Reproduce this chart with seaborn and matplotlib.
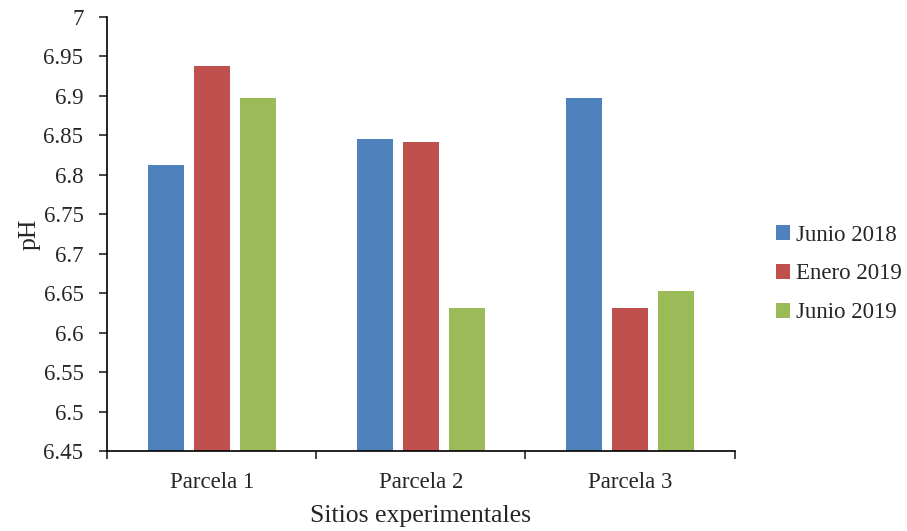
import matplotlib
matplotlib.use('agg')
import matplotlib.pyplot as plt
import numpy as np
import pandas as pd
import seaborn as sns

sitios = ['Parcela 1', 'Parcela 2', 'Parcela 3']
fechas = ['Junio 2018', 'Enero 2019', 'Junio 2019']
junio_2018 = [6.812, 6.845, 6.897]
enero_2019 = [6.938, 6.842, 6.631]
junio_2019 = [6.897, 6.631, 6.653]
colores = ['#4F81BD', '#C0504D', '#9BBB59']

df = pd.DataFrame({
    'sitio': sitios * 3,
    'fecha': [f for f in fechas for _ in sitios],
    'pH': junio_2018 + enero_2019 + junio_2019,
})

sns.set_style('white')
plt.rcParams['font.family'] = ['Liberation Serif', 'DejaVu Serif']

fig = plt.figure(figsize=(9.07, 5.31), dpi=100)
ax = fig.add_axes([0.118, 0.1507, 0.692, 0.8173])

sns.barplot(data=df, x='sitio', y='pH', hue='fecha', order=sitios, hue_order=fechas,
            palette=colores, saturation=1, width=0.66, gap=0.22, linewidth=0,
            errorbar=None, ax=ax)

yt = np.round(np.arange(6.45, 7.001, 0.05), 2)
ax.set_ylim(6.45, 7.0)
ax.set_yticks(yt)
ax.set_yticklabels(['%g' % v for v in yt])
ax.set_xlim(-0.5, 2.5)
ax.set_xticks(range(3))
ax.set_xticks([-0.5, 0.5, 1.5, 2.5], minor=True)
ax.tick_params(axis='x', which='major', length=0, labelsize=16.5, pad=15)
ax.tick_params(axis='x', which='minor', length=6, width=1.2, direction='out', bottom=True)
ax.tick_params(axis='y', length=6, width=1.2, direction='out', left=True, labelsize=16.5, pad=11)

for side in ['top', 'right']:
    ax.spines[side].set_visible(False)
for side in ['left', 'bottom']:
    ax.spines[side].set_color('black')
    ax.spines[side].set_linewidth(1.2)

ax.set_xlabel('Sitios experimentales', fontsize=18.5, labelpad=9)
ax.set_ylabel('pH', fontsize=18.5, labelpad=2)

ax.legend(loc='center left', bbox_to_anchor=(0.856, 0.484), bbox_transform=fig.transFigure,
          frameon=False, fontsize=16.5, handlelength=0.6, handleheight=0.6,
          handletextpad=0.25, labelspacing=0.78, borderpad=0, borderaxespad=0)

fig.savefig('out.png', dpi=100)
